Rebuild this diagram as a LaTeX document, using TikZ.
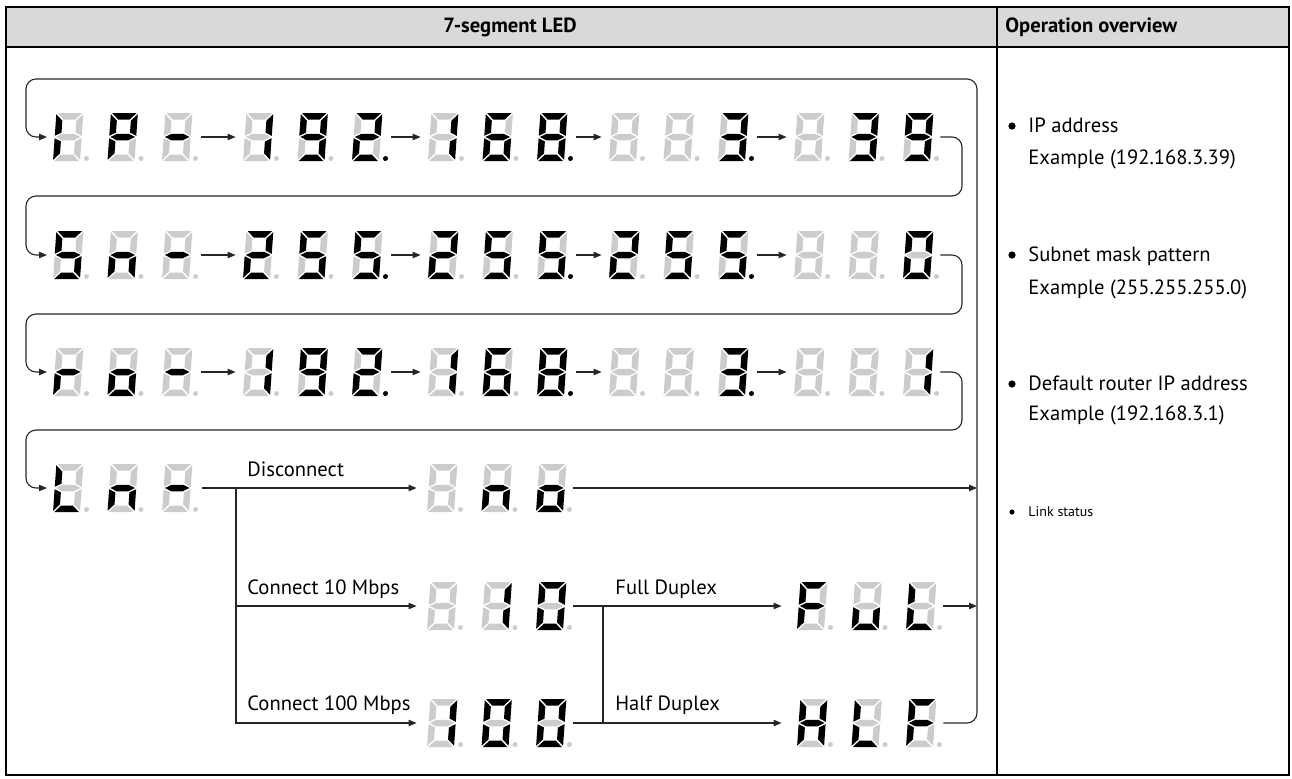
\documentclass[tikz,border=0pt]{standalone}
\usepackage{fontspec}
\setmainfont{PT Sans}
\usetikzlibrary{arrows.meta}
\definecolor{segoffc}{HTML}{CCCCCC}
\definecolor{hdrgray}{HTML}{D9D9D9}
\definecolor{linec}{HTML}{262626}
\tikzset{
  segon/.style={fill=black},
  segoff/.style={fill=segoffc},
  grp/.style={inner sep=0pt, minimum width=73pt, minimum height=24pt, draw=none},
  conn/.style={draw=linec, line width=0.55pt},
  arr/.style={-{Triangle[length=4pt,width=3.2pt]}},
  lbl/.style={anchor=base west, inner sep=0pt, font=\fontsize{10.3}{12}\selectfont},
  smalllbl/.style={anchor=base west, inner sep=0pt, font=\fontsize{7}{8}\selectfont},
  bul/.style={circle, fill=black, inner sep=0pt, minimum size=3.6pt},
  smallbul/.style={circle, fill=black, inner sep=0pt, minimum size=2.6pt},
  hdr/.style={inner sep=0pt, font=\fontsize{10.3}{12}\selectfont\bfseries},
}
% segment order: a b c d e f g dp
\def\LcdSegFill#1#2{\ifnum#1=1 \fill[segon]#2;\else\fill[segoff]#2;\fi}
\def\LcdParse#1#2#3#4#5#6#7#8\relax{%
 \LcdSegFill{#1}{(1.2,-24)--(25.8,-24)--(19.3,-17.5)--(7.7,-17.5)--cycle}%
 \LcdSegFill{#2}{(27,-22.8)--(20.5,-16.3)--(20.5,-4.45)--(27,-1.2)--cycle}%
 \LcdSegFill{#3}{(27,1.2)--(20.5,4.45)--(20.5,16.3)--(27,22.8)--cycle}%
 \LcdSegFill{#4}{(1.2,24)--(25.8,24)--(19.3,17.5)--(7.7,17.5)--cycle}%
 \LcdSegFill{#5}{(0,1.2)--(6.5,4.45)--(6.5,16.3)--(0,22.8)--cycle}%
 \LcdSegFill{#6}{(0,-22.8)--(6.5,-16.3)--(6.5,-4.45)--(0,-1.2)--cycle}%
 \LcdSegFill{#7}{(1.2,0)--(7.7,-3.25)--(19.3,-3.25)--(25.8,0)--(19.3,3.25)--(7.7,3.25)--cycle}%
 \LcdSegFill{#8}{(33.3,21.5) circle[radius=1.25pt]}%
}
\def\LcdDigit#1#2{\begin{scope}[shift={#2},xslant=0.07]\expandafter\LcdParse#1\relax\end{scope}}
\def\LcdGroup#1#2#3#4#5#6{%
  \node[grp] (#1) at ({#2+73},#3) {};
  \LcdDigit{#4}{({#2+1.7},#3)}%
  \LcdDigit{#5}{({#2+56.2},#3)}%
  \LcdDigit{#6}{({#2+110.7},#3)}%
}
\def\LcdBlank{0000000}
\def\LcdI{0000110}
\def\LcdP{1100111}
\def\LcdDash{0000001}
\def\LcdOne{0110000}
\def\LcdNine{1111011}
\def\LcdTwo{1101101}
\def\LcdSix{1011111}
\def\LcdEight{1111111}
\def\LcdThree{1111001}
\def\LcdFive{1011011}
\def\LcdLn{0010101}
\def\LcdZero{1111110}
\def\LcdLr{0000101}
\def\LcdLo{0011101}
\def\LcdL{0001110}
\def\LcdF{1000111}
\def\LcdLu{0011100}
\def\LcdH{0110111}
\begin{document}
\begin{tikzpicture}[x=0.5pt,y=-0.5pt]
\useasboundingbox (0,0) rectangle (1292,778);
% table
\fill[hdrgray] (6,7) rectangle (1289,47);
\draw[line width=0.9pt] (6,47) -- (1289,47);
\draw[line width=1pt] (997,7) -- (997,775);
\draw[line width=1.2pt] (6,7) rectangle (1289,775);
\node[hdr] (hled) at (510,27) {7-segment LED};
\node[hdr, anchor=west] (hop) at (1005,27) {Operation overview};

% row 1
\LcdGroup{r1a}{53}{137}{\LcdI0}{\LcdP0}{\LcdDash0}
\LcdGroup{r1b}{243}{137}{\LcdOne0}{\LcdNine0}{\LcdTwo1}
\LcdGroup{r1c}{428}{137}{\LcdOne0}{\LcdSix0}{\LcdEight1}
\LcdGroup{r1d}{609}{137}{\LcdBlank0}{\LcdBlank0}{\LcdThree1}
\LcdGroup{r1e}{794}{137}{\LcdBlank0}{\LcdThree0}{\LcdNine0}
% row 2
\LcdGroup{r2a}{53}{255}{\LcdFive0}{\LcdLn0}{\LcdDash0}
\LcdGroup{r2b}{243}{255}{\LcdTwo0}{\LcdFive0}{\LcdFive1}
\LcdGroup{r2c}{428}{255}{\LcdTwo0}{\LcdFive0}{\LcdFive1}
\LcdGroup{r2d}{609}{255}{\LcdTwo0}{\LcdFive0}{\LcdFive1}
\LcdGroup{r2e}{794}{255}{\LcdBlank0}{\LcdBlank0}{\LcdZero0}
% row 3
\LcdGroup{r3a}{53}{372}{\LcdLr0}{\LcdLo0}{\LcdDash0}
\LcdGroup{r3b}{243}{372}{\LcdOne0}{\LcdNine0}{\LcdTwo1}
\LcdGroup{r3c}{428}{372}{\LcdOne0}{\LcdSix0}{\LcdEight1}
\LcdGroup{r3d}{609}{372}{\LcdBlank0}{\LcdBlank0}{\LcdThree1}
\LcdGroup{r3e}{794}{372}{\LcdBlank0}{\LcdBlank0}{\LcdOne0}
% row 4
\LcdGroup{r4a}{53}{488}{\LcdL0}{\LcdLn0}{\LcdDash0}
\LcdGroup{no}{427}{488}{\LcdBlank0}{\LcdLn0}{\LcdLo0}
\LcdGroup{c10}{427}{606}{\LcdBlank0}{\LcdOne0}{\LcdZero0}
\LcdGroup{c100}{427}{723}{\LcdOne0}{\LcdZero0}{\LcdZero0}
\LcdGroup{ful}{797}{606}{\LcdF0}{\LcdLu0}{\LcdL0}
\LcdGroup{hlf}{797}{723}{\LcdH0}{\LcdL0}{\LcdF0}

% coordinates
\coordinate (in1) at (47,137);
\coordinate (in2) at (47,255);
\coordinate (in3) at (47,372);
\coordinate (in4) at (47,488);
\coordinate (loopTL) at (26,79);
\coordinate (loopTR) at (977,79);
\coordinate (loopBR) at (977,723);
\coordinate (h1) at (962,196);
\coordinate (s1) at (26,196);
\coordinate (h2) at (962,314);
\coordinate (s2) at (26,314);
\coordinate (h3) at (962,430);
\coordinate (s3) at (26,430);
\coordinate (br1) at (236,488);
\coordinate (br2) at (603,606);

% loops
\draw[conn,arr,rounded corners=5pt] (hlf.east) -- (loopBR) -- (loopTR) -- (loopTL) |- (in1);
\draw[conn,arr,rounded corners=5pt] (r1e.east) -| (h1) -- (s1) |- (in2);
\draw[conn,arr,rounded corners=5pt] (r2e.east) -| (h2) -- (s2) |- (in3);
\draw[conn,arr,rounded corners=5pt] (r3e.east) -| (h3) -- (s3) |- (in4);

% group arrows
\foreach \r in {1,2,3}{
  \draw[conn,arr] ([xshift=1pt]r\r a.east) -- ([xshift=-3.5pt]r\r b.west);
  \draw[conn,arr] ([xshift=1pt]r\r b.east) -- ([xshift=-3.5pt]r\r c.west);
  \draw[conn,arr] ([xshift=1pt]r\r c.east) -- ([xshift=-3.5pt]r\r d.west);
  \draw[conn,arr] ([xshift=1pt]r\r d.east) -- ([xshift=-3.5pt]r\r e.west);
}

% row 4 branches
\draw[conn,arr] ([xshift=1.5pt]r4a.east) -- ([xshift=-5pt]no.west);
\draw[conn,arr] (br1) |- ([xshift=-5pt]c100.west);
\draw[conn,arr] (br1 |- c10.west) -- ([xshift=-5pt]c10.west);
\draw[conn,arr] (no.east) -- (no.east -| loopTR);
\draw[conn,arr] (c10.east) -- ([xshift=-7.5pt]ful.west);
\draw[conn,arr] (c100.east) -- ([xshift=-7.5pt]hlf.west);
\draw[conn] (br2) -- (br2 |- c100.east);
\draw[conn,arr] (ful.east) -- (ful.east -| loopTR);

% labels
\node[lbl] (tdis) at (247,476) {Disconnect};
\node[lbl] (tc10) at (247,594) {Connect 10 Mbps};
\node[lbl] (tc100) at (247,710) {Connect 100 Mbps};
\node[lbl] (tfd) at (615,594) {Full Duplex};
\node[lbl] (thd) at (615,710) {Half Duplex};

% right column
\node[bul] (b1) at (1012,126) {};
\node[lbl] (ip1) at (1028,132) {IP address};
\node[lbl] (ip2) at (1028,164) {Example (192.168.3.39)};
\node[bul] (b2) at (1012,255) {};
\node[lbl] (sn1) at (1028,261) {Subnet mask pattern};
\node[lbl] (sn2) at (1028,294) {Example (255.255.255.0)};
\node[bul] (b3) at (1012,384) {};
\node[lbl] (dr1) at (1028,390) {Default router IP address};
\node[lbl] (dr2) at (1028,420) {Example (192.168.3.1)};
\node[smallbul] (b4) at (1012,512) {};
\node[smalllbl] (ls1) at (1028,516) {Link status};
\end{tikzpicture}
\end{document}
